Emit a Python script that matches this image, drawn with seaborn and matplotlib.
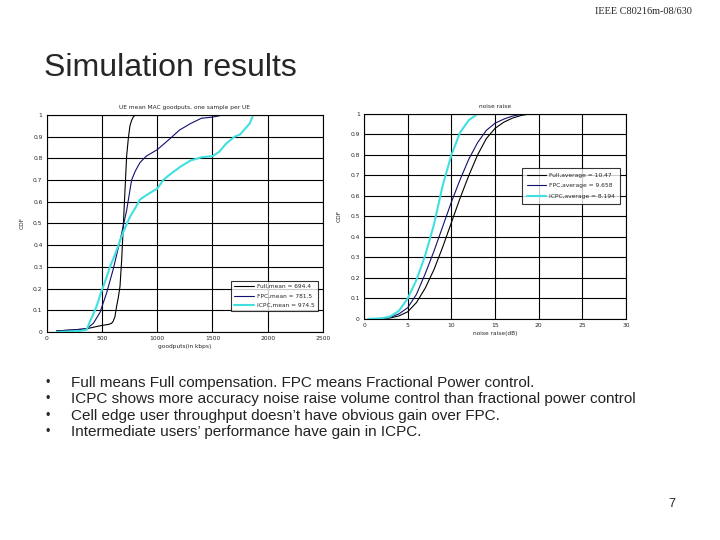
import pandas as pd
import matplotlib
matplotlib.use("Agg")
import matplotlib.pyplot as plt
import seaborn as sns

# goodput CDF points (kbps, cdf)
full_gp_x = [90, 250, 361, 450, 497, 560, 587, 602, 617, 633, 648, 663, 678, 693, 708, 723, 738, 753, 768, 783, 800, 949]
full_gp_y = [0.005, 0.01, 0.015, 0.025, 0.03, 0.035, 0.04, 0.05, 0.07, 0.12, 0.16, 0.21, 0.33, 0.49, 0.65, 0.81, 0.89, 0.95, 0.975, 0.99, 1.0, 1.0]
fpc_gp_x = [90, 250, 361, 422, 482, 542, 602, 663, 723, 768, 800, 843, 900, 1000, 1114, 1200, 1300, 1400, 1500, 1596, 1657]
fpc_gp_y = [0.005, 0.01, 0.015, 0.04, 0.09, 0.18, 0.29, 0.42, 0.56, 0.70, 0.74, 0.78, 0.81, 0.84, 0.89, 0.93, 0.96, 0.985, 0.99, 1.0, 1.0]
icpc_gp_x = [90, 300, 361, 392, 420, 452, 497, 540, 572, 620, 663, 700, 753, 800, 843, 900, 964, 1000, 1054,
             1100, 1205, 1300, 1400, 1500, 1560, 1627, 1700, 1750, 1800, 1837, 1867, 2048]
icpc_gp_y = [0.0, 0.005, 0.01, 0.05, 0.08, 0.12, 0.19, 0.25, 0.30, 0.36, 0.42, 0.47, 0.53, 0.57, 0.61, 0.63, 0.65, 0.66, 0.70,
             0.72, 0.76, 0.79, 0.805, 0.81, 0.83, 0.87, 0.90, 0.91, 0.94, 0.96, 1.0, 1.0]

# noise raise CDF points (dB, cdf)
full_nr_x = [0.7, 3, 4, 5, 6, 7, 8, 9, 10, 11, 12, 13, 14, 15, 16, 17, 18, 19, 19.3]
full_nr_y = [0.0, 0.005, 0.015, 0.035, 0.08, 0.15, 0.24, 0.35, 0.47, 0.59, 0.70, 0.80, 0.88, 0.93, 0.96, 0.98, 0.993, 1.0, 1.0]
fpc_nr_x = [0.5, 2, 3, 4, 5, 6, 7, 8, 9, 10, 11, 12, 13, 14, 15, 16, 17, 18, 18.5, 27.8]
fpc_nr_y = [0.0, 0.002, 0.008, 0.025, 0.055, 0.12, 0.22, 0.33, 0.45, 0.57, 0.68, 0.78, 0.86, 0.92, 0.955, 0.975, 0.99, 0.998, 1.0, 1.0]
icpc_nr_x = [0.46, 2, 3, 4, 5, 6, 7, 8, 9, 10, 11, 12, 13, 22.4]
icpc_nr_y = [0.0, 0.003, 0.012, 0.04, 0.10, 0.19, 0.31, 0.46, 0.65, 0.80, 0.91, 0.97, 1.0, 1.0]

gp_labels = ["Full,mean = 694.4", "FPC,mean = 781.5", "ICPC,mean = 974.5"]
nr_labels = ["Full,average = 10.47", "FPC,average = 9.658", "ICPC,average = 8.194"]
colors = ["black", "#10106e", "#40e0e0"]
widths = [0.8, 0.8, 1.5]

bullets = [
    "Full means Full compensation. FPC means Fractional Power control.",
    "ICPC shows more accuracy noise raise volume control than fractional power control",
    "Cell edge user throughput doesn\u2019t have obvious gain over FPC.",
    "Intermediate users\u2019 performance have gain in ICPC.",
]

sns.set_style("white")
plt.rcParams["font.family"] = ["DejaVu Sans"]

fig = plt.figure(figsize=(7.2, 5.4), dpi=100)
ax1 = fig.add_axes([0.0649, 0.3852, 0.3837, 0.4019])
ax2 = fig.add_axes([0.5056, 0.4093, 0.3639, 0.3796])

gp_series = [(full_gp_x, full_gp_y), (fpc_gp_x, fpc_gp_y), (icpc_gp_x, icpc_gp_y)]
nr_series = [(full_nr_x, full_nr_y), (fpc_nr_x, fpc_nr_y), (icpc_nr_x, icpc_nr_y)]

for (xs, ys), lab, c, w in zip(gp_series, gp_labels, colors, widths):
    df = pd.DataFrame({"x": xs, "y": ys})
    sns.lineplot(data=df, x="x", y="y", ax=ax1, color=c, linewidth=w, label=lab,
                 estimator=None, sort=False)
for (xs, ys), lab, c, w in zip(nr_series, nr_labels, colors, widths):
    df = pd.DataFrame({"x": xs, "y": ys})
    sns.lineplot(data=df, x="x", y="y", ax=ax2, color=c, linewidth=w, label=lab,
                 estimator=None, sort=False)

yt = [i / 10 for i in range(11)]
ytl = ["0"] + [f"{v:.1f}" for v in yt[1:-1]] + ["1"]

ax1.set_xlim(0, 2500)
ax1.set_xticks([0, 500, 1000, 1500, 2000, 2500])
ax1.set_title("UE mean MAC goodputs, one sample per UE", fontsize=4.2, pad=4)
ax1.set_xlabel("goodputs(in kbps)", fontsize=4.2, labelpad=2)

ax2.set_xlim(0, 30)
ax2.set_xticks([0, 5, 10, 15, 20, 25, 30])
ax2.set_title("noise raise", fontsize=4.2, pad=4)
ax2.set_xlabel("noise raise(dB)", fontsize=4.2, labelpad=2)

for ax in (ax1, ax2):
    ax.set_ylim(0, 1)
    ax.set_yticks(yt)
    ax.set_yticklabels(ytl)
    ax.set_ylabel("CDF", fontsize=4.2, labelpad=6)
    ax.tick_params(labelsize=4.3, length=0, pad=3)
    ax.grid(True, color="black", linewidth=0.8)
    ax.set_axisbelow(True)
    for s in ax.spines.values():
        s.set_color("black")
        s.set_linewidth(0.8)

leg1 = ax1.legend(loc="lower right", bbox_to_anchor=(0.982, 0.097), borderaxespad=0,
                  fontsize=4.2, frameon=True, fancybox=False, handlelength=3.4,
                  handletextpad=0.6, borderpad=0.5, labelspacing=0.75, edgecolor="black")
leg1.get_frame().set_linewidth(0.8)
leg2 = ax2.legend(loc="upper right", bbox_to_anchor=(0.977, 0.737), borderaxespad=0,
                  fontsize=4.3, frameon=True, fancybox=False, handlelength=3.2,
                  handletextpad=0.6, borderpad=0.8, labelspacing=0.9, edgecolor="black")
leg2.get_frame().set_linewidth(0.8)

# slide text
fig.text(0.961, 0.978, "IEEE C80216m-08/630", ha="right", va="center",
         fontsize=7.4, family=["Liberation Serif", "DejaVu Serif"])
fig.text(0.061, 0.874, "Simulation results", ha="left", va="center",
         fontsize=23, family=["Liberation Sans", "DejaVu Sans"])
for i, line in enumerate(bullets):
    y = 1 - (383 + i * 16.3) / 540
    fig.text(0.063, y, "\u2022", ha="left", va="center", fontsize=9,
             family=["Liberation Sans", "DejaVu Sans"])
    fig.text(0.099, y, line, ha="left", va="center", fontsize=11, color="#222222",
             family=["Liberation Sans", "DejaVu Sans"])
fig.text(0.933, 0.067, "7", ha="center", va="center", fontsize=9,
         family=["Liberation Sans", "DejaVu Sans"])

fig.savefig("out.png", dpi=100)
